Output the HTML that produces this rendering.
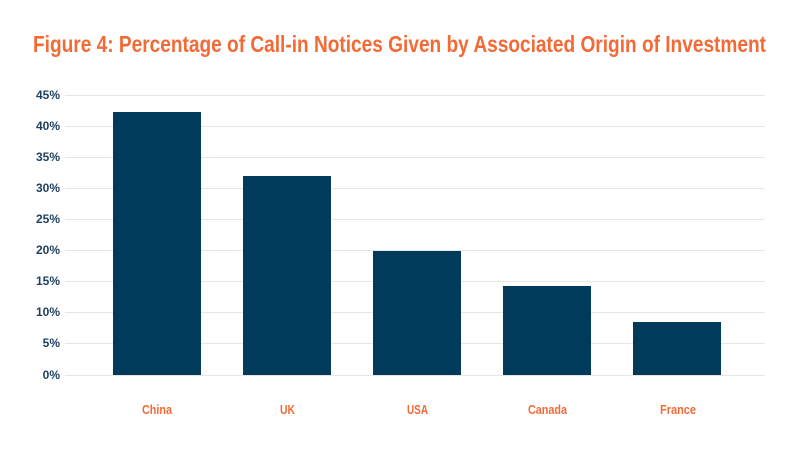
<!DOCTYPE html>
<html><head><meta charset="utf-8"><style>
html,body{margin:0;padding:0;background:#fff;}
svg{display:block;}
</style></head><body>
<svg width="800" height="450" viewBox="0 0 800 450" xmlns="http://www.w3.org/2000/svg">
<text x="33" y="52" font-family="Liberation Sans Narrow, Liberation Sans, sans-serif" font-weight="bold" font-size="23" fill="#f26a36" textLength="733" lengthAdjust="spacingAndGlyphs">Figure 4: Percentage of Call-in Notices Given by Associated Origin of Investment</text>
<g stroke="#e6e6e6" stroke-width="1">
<line x1="65" x2="765" y1="95.5" y2="95.5"/>
<line x1="65" x2="765" y1="126.5" y2="126.5"/>
<line x1="65" x2="765" y1="157.5" y2="157.5"/>
<line x1="65" x2="765" y1="188.5" y2="188.5"/>
<line x1="65" x2="765" y1="219.5" y2="219.5"/>
<line x1="65" x2="765" y1="250.5" y2="250.5"/>
<line x1="65" x2="765" y1="281.5" y2="281.5"/>
<line x1="65" x2="765" y1="312.5" y2="312.5"/>
<line x1="65" x2="765" y1="343.5" y2="343.5"/>
<line x1="65" x2="765" y1="375.5" y2="375.5"/>
</g>
<g font-family="Liberation Sans, sans-serif" font-weight="bold" font-size="12" fill="#1d3f5c" text-anchor="end">
<text x="60" y="99">45%</text>
<text x="60" y="130">40%</text>
<text x="60" y="161">35%</text>
<text x="60" y="192">30%</text>
<text x="60" y="223">25%</text>
<text x="60" y="254">20%</text>
<text x="60" y="285">15%</text>
<text x="60" y="316">10%</text>
<text x="60" y="347">5%</text>
<text x="60" y="379">0%</text>
</g>
<g fill="#023a5b">
<rect x="113" y="112" width="88" height="263"/>
<rect x="243" y="176" width="88" height="199"/>
<rect x="373" y="251" width="88" height="124"/>
<rect x="503" y="286" width="88" height="89"/>
<rect x="633" y="322" width="88" height="53"/>
</g>
<g font-family="Liberation Sans Narrow, Liberation Sans, sans-serif" font-weight="bold" font-size="13" fill="#f26a36" lengthAdjust="spacingAndGlyphs">
<text x="142" y="414" textLength="30" lengthAdjust="spacingAndGlyphs">China</text>
<text x="280" y="414" textLength="15" lengthAdjust="spacingAndGlyphs">UK</text>
<text x="407" y="414" textLength="21" lengthAdjust="spacingAndGlyphs">USA</text>
<text x="528" y="414" textLength="39" lengthAdjust="spacingAndGlyphs">Canada</text>
<text x="660" y="414" textLength="36" lengthAdjust="spacingAndGlyphs">France</text>
</g>
</svg>
</body></html>
